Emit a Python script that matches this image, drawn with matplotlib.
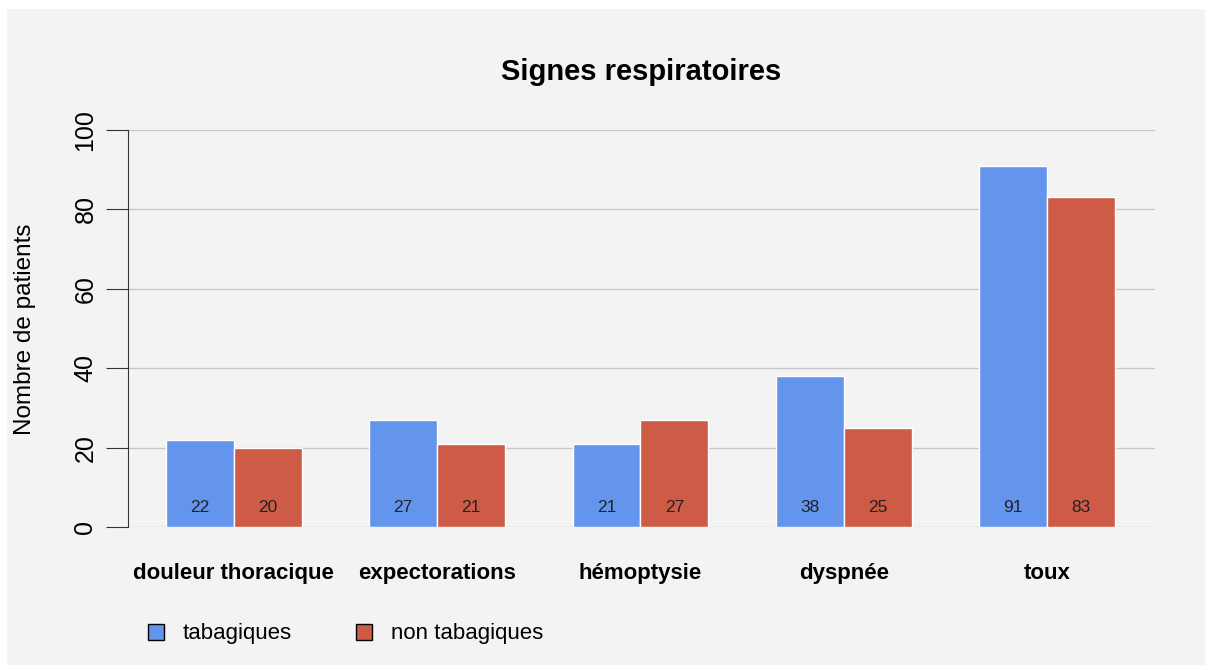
import numpy as np
import matplotlib
matplotlib.use("Agg")
import matplotlib.pyplot as plt
from matplotlib.patches import Rectangle

categories = ["douleur thoracique", "expectorations", "hémoptysie", "dyspnée", "toux"]
tabagiques = [22, 27, 21, 38, 91]
non_tabagiques = [20, 21, 27, 25, 83]
series_names = ["tabagiques", "non tabagiques"]
yticks = [0, 20, 40, 60, 80, 100]

plt.rcParams['font.family'] = ['Liberation Sans', 'DejaVu Sans']

W, H = 1212, 670
fig = plt.figure(figsize=(W / 100, H / 100), dpi=100, facecolor="white")
bg = "#f3f3f3"
fig.patches.append(Rectangle((7 / W, 5 / H), (1205 - 7) / W, (661 - 5) / H,
                             transform=fig.transFigure, facecolor=bg, edgecolor="none", zorder=-10))

ax = fig.add_axes([128 / W, (H - 527) / H, (1155 - 128) / W, (527 - 130) / H])
ax.patch.set_visible(False)

blue = "#6495ED"
red = "#CD5B45"
x0 = np.arange(len(categories)) * 3 + 1
ax.bar(x0, tabagiques, width=1, align="edge", color=blue, edgecolor="white", linewidth=1, zorder=3)
ax.bar(x0 + 1, non_tabagiques, width=1, align="edge", color=red, edgecolor="white", linewidth=1, zorder=3)

for xi, v in zip(x0, tabagiques):
    ax.text(xi + 0.5, 5, str(v), ha="center", va="center", fontsize=12.5, color="#222222", zorder=4)
for xi, v in zip(x0 + 1, non_tabagiques):
    ax.text(xi + 0.5, 5, str(v), ha="center", va="center", fontsize=12.5, color="#222222", zorder=4)

ax.set_xlim(0.44, 15.59)
ax.set_ylim(0, 100)
for t in yticks:
    ax.axhline(t, color="#c8c8c8", linewidth=1, zorder=1)

for s in ["top", "right", "bottom"]:
    ax.spines[s].set_visible(False)
ax.spines["left"].set_color("#333333")
ax.set_yticks(yticks)
ax.set_yticklabels([str(t) for t in yticks], rotation=90, va="center", fontsize=18)
ax.tick_params(axis="y", length=16, color="#333333", pad=6)
ax.set_xticks(x0 + 1)
ax.set_xticklabels(categories, fontsize=16, fontweight="bold")
ax.tick_params(axis="x", length=0, pad=26)

fig.text(25 / W, 1 - 329 / H, "Nombre de patients", rotation=90, ha="center", va="center",
         fontsize=17.5)
fig.text((128 + 1155) / 2 / W, 1 - 72 / H, "Signes respiratoires", ha="center", va="center",
         fontsize=21, fontweight="bold")

handles = [Rectangle((0, 0), 1, 1, facecolor=blue, edgecolor="black", linewidth=1),
           Rectangle((0, 0), 1, 1, facecolor=red, edgecolor="black", linewidth=1)]
fig.legend(handles, series_names, loc="center left", bbox_to_anchor=(128 / W, 1 - 634 / H),
           ncol=2, frameon=False, fontsize=16, handlelength=0.72, handleheight=0.72,
           columnspacing=2.9, handletextpad=0.85)

fig.savefig("out.png", dpi=100, facecolor="white")
